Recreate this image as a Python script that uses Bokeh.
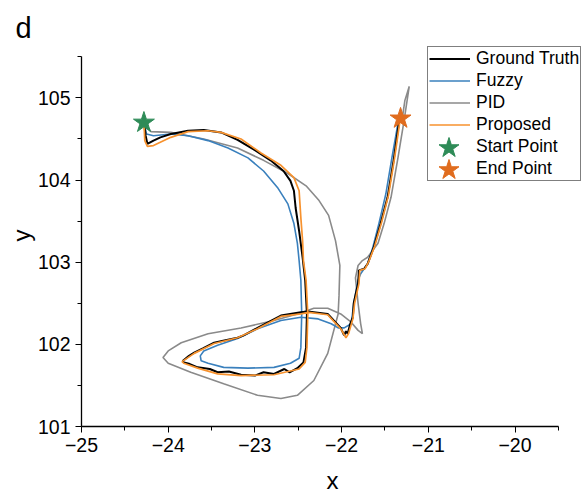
from bokeh.plotting import figure
from bokeh.models import Range1d, FixedTicker, Legend, LegendItem, Title
from bokeh.embed import file_html
from bokeh.resources import INLINE

# ---------------- data ----------------
gt_x = [-24.28, -24.26, -24.24, -24.17, -24.09, -23.97, -23.77, -23.59, -23.39,
        -23.20, -23.01, -22.82, -22.67, -22.59, -22.55, -22.53, -22.49, -22.45,
        -22.42, -22.40, -22.41, -22.44, -22.51, -22.60, -22.66, -22.78, -22.90,
        -23.00, -23.16, -23.30, -23.43, -23.52, -23.66, -23.75, -23.82, -23.83,
        -23.76, -23.70, -23.60, -23.47, -23.38, -23.20, -23.13, -22.97, -22.70,
        -22.47, -22.39, -22.16, -22.09, -22.01, -21.98, -21.97, -21.95, -21.93,
        -21.90, -21.87, -21.86, -21.81, -21.80, -21.74, -21.70, -21.63, -21.55,
        -21.47, -21.40, -21.34, -21.32]
gt_y = [104.70, 104.54, 104.44, 104.48, 104.52, 104.56, 104.60, 104.61, 104.58,
        104.49, 104.37, 104.24, 104.11, 103.99, 103.87, 103.66, 103.38, 103.06,
        102.78, 102.37, 101.96, 101.78, 101.71, 101.66, 101.70, 101.64, 101.66,
        101.62, 101.63, 101.67, 101.66, 101.70, 101.72, 101.76, 101.78, 101.80,
        101.86, 101.90, 101.95, 102.02, 102.04, 102.08, 102.11, 102.20, 102.35,
        102.39, 102.40, 102.37, 102.29, 102.20, 102.13, 102.11, 102.16, 102.13,
        102.25, 102.33, 102.50, 102.74, 102.90, 102.92, 102.98, 103.18, 103.47,
        103.79, 104.24, 104.69, 104.75]

fz_x = [-24.28, -24.25, -24.17, -23.97, -23.77, -23.54, -23.31, -23.08, -22.90,
        -22.74, -22.62, -22.55, -22.51, -22.49, -22.47, -22.46, -22.47, -22.49,
        -22.59, -22.78, -23.08, -23.36, -23.54, -23.62, -23.63, -23.59, -23.43,
        -23.20, -22.97, -22.70, -22.47, -22.27, -22.12, -22.04, -21.97, -21.89,
        -21.87, -21.86, -21.81, -21.78, -21.70, -21.64, -21.57, -21.49, -21.42,
        -21.35, -21.32]
fz_y = [104.70, 104.56, 104.54, 104.56, 104.54, 104.48, 104.39, 104.27, 104.11,
        103.91, 103.71, 103.47, 103.23, 103.02, 102.78, 102.37, 101.96, 101.83,
        101.77, 101.72, 101.71, 101.72, 101.77, 101.80, 101.86, 101.92, 101.99,
        102.07, 102.19, 102.29, 102.33, 102.31, 102.25, 102.20, 102.20, 102.25,
        102.41, 102.50, 102.78, 102.86, 102.98, 103.18, 103.47, 103.83, 104.27,
        104.69, 104.75]

pid_x = [-24.28, -24.20, -23.97, -23.59, -23.20, -22.90, -22.62, -22.41, -22.26,
         -22.15, -22.07, -22.02, -22.03, -22.04, -22.16, -22.32, -22.51, -22.70,
         -22.97, -23.36, -23.74, -24.00, -24.06, -24.00, -23.85, -23.54, -23.16,
         -22.78, -22.51, -22.32, -22.16, -22.01, -21.89, -21.81, -21.76, -21.78,
         -21.81, -21.84, -21.81, -21.76, -21.70, -21.58, -21.51, -21.43, -21.35,
         -21.28, -21.24, -21.22, -21.27, -21.30]
pid_y = [104.70, 104.59, 104.58, 104.50, 104.39, 104.24, 104.08, 103.93, 103.75,
         103.57, 103.26, 102.96, 102.59, 102.37, 101.89, 101.56, 101.38, 101.34,
         101.38, 101.52, 101.66, 101.77, 101.84, 101.92, 102.02, 102.13, 102.20,
         102.29, 102.37, 102.44, 102.44, 102.37, 102.27, 102.17, 102.13, 102.25,
         102.50, 102.81, 102.96, 103.02, 103.06, 103.23, 103.47, 103.79, 104.27,
         104.72, 105.00, 105.14, 104.97, 104.75]

pr_x = [-24.28, -24.27, -24.24, -24.17, -23.97, -23.77, -23.54, -23.39, -23.16,
        -22.93, -22.70, -22.55, -22.49, -22.47, -22.45, -22.44, -22.41, -22.39,
        -22.40, -22.42, -22.49, -22.78, -23.16, -23.43, -23.66, -23.82, -23.84,
        -23.70, -23.47, -23.20, -22.97, -22.70, -22.47, -22.38, -22.16, -22.09,
        -22.01, -21.95, -21.92, -21.87, -21.85, -21.80, -21.79, -21.73, -21.69,
        -21.62, -21.54, -21.46, -21.39, -21.33, -21.32]
pr_y = [104.70, 104.48, 104.41, 104.42, 104.52, 104.59, 104.60, 104.58, 104.50,
        104.33, 104.18, 104.03, 103.87, 103.54, 103.26, 103.02, 102.78, 102.37,
        101.96, 101.78, 101.70, 101.63, 101.62, 101.64, 101.71, 101.77, 101.79,
        101.89, 102.01, 102.08, 102.19, 102.34, 102.37, 102.39, 102.36, 102.28,
        102.19, 102.08, 102.13, 102.31, 102.50, 102.74, 102.90, 102.92, 103.00,
        103.19, 103.48, 103.81, 104.26, 104.70, 104.75]

start_pt = (-24.28, 104.70)
end_pt = (-21.32, 104.75)

x_ticks = [-25, -24, -23, -22, -21, -20]
x_minor = [-24.5, -23.5, -22.5, -21.5, -20.5, -19.5]
y_ticks = [101, 102, 103, 104, 105]
y_minor = [101.5, 102.5, 103.5, 104.5, 105.5]

labels = ["Ground Truth", "Fuzzy", "PID", "Proposed", "Start Point", "End Point"]
c_gt, c_fz, c_pid, c_pr = "#000000", "#3a80bd", "#8a8a8a", "#f7922e"
c_start, c_end = "#2e8b57", "#e06c1e"

FONT = "Liberation Sans"

# ---------------- figure ----------------
X0, X1, Y0, Y1 = -25, -19.21, 101, 105.65
BL, BR, BT, BB = 81, 0, 44, 72
W, H = 583, 498
FW, FH = W - BL - BR, H - BT - BB

p = figure(width=W, height=H,
           min_border_left=BL, min_border_right=BR,
           min_border_top=BT, min_border_bottom=BB,
           x_range=Range1d(X0, X1), y_range=Range1d(Y0, Y1),
           output_backend="svg", toolbar_location=None,
           background_fill_color="white", border_fill_color="white")
p.outline_line_color = None
p.grid.visible = False

for ax, ticks, minor, bnds in ((p.xaxis[0], x_ticks, x_minor, (-25, -19.5)),
                               (p.yaxis[0], y_ticks, y_minor, (101, 105.5))):
    ax.bounds = bnds
    ax.ticker = FixedTicker(ticks=ticks, minor_ticks=minor)
    ax.axis_line_color = "black"
    ax.axis_line_width = 1.3
    ax.major_tick_line_color = "black"
    ax.minor_tick_line_color = "black"
    ax.major_tick_in = 0
    ax.major_tick_out = 6
    ax.minor_tick_in = 0
    ax.minor_tick_out = 4
    ax.major_label_text_font = FONT
    ax.major_label_text_font_size = "19.5px"
    ax.major_label_text_color = "black"
    ax.axis_label_text_font = FONT
    ax.axis_label_text_font_size = "24px"
    ax.axis_label_text_font_style = "normal"
    ax.axis_label_text_color = "black"
    ax.major_label_standoff = 5

p.xaxis.axis_label = "x"
p.yaxis.axis_label = "y"
p.xaxis.axis_label_standoff = 12
p.yaxis.axis_label_standoff = 0
p.xaxis.major_label_overrides = {t: str(t).replace("-", "\u2212") for t in x_ticks}

r_pid = p.line(pid_x, pid_y, line_color=c_pid, line_width=1.6)
r_fz = p.line(fz_x, fz_y, line_color=c_fz, line_width=1.6)
r_gt = p.line(gt_x, gt_y, line_color=c_gt, line_width=2.0)
r_pr = p.line(pr_x, pr_y, line_color=c_pr, line_width=1.7)
p.scatter([start_pt[0]], [start_pt[1]], marker="star", size=22,
          fill_color=c_start, line_color=c_start)
p.scatter([end_pt[0]], [end_pt[1]], marker="star", size=22,
          fill_color=c_end, line_color=c_end)
# transparent stand-ins so the legend rows for the points keep their labels
r_st = p.scatter([start_pt[0]], [start_pt[1]], marker="star", size=1,
                 fill_alpha=0, line_alpha=0)
r_en = p.scatter([end_pt[0]], [end_pt[1]], marker="star", size=1,
                 fill_alpha=0, line_alpha=0)

# ---------------- legend ----------------
pad, gh, sp, gw = 1, 21, 1, 41
leg_x, leg_y = 346, 245
legend = Legend(items=[LegendItem(label=l, renderers=[r]) for l, r in
                       zip(labels, [r_gt, r_fz, r_pid, r_pr, r_st, r_en])],
                location=(leg_x, leg_y), padding=pad, spacing=sp, margin=0,
                glyph_width=gw, glyph_height=gh, label_height=gh,
                label_standoff=6, label_text_font=FONT,
                label_text_font_size="17.5px", label_text_color="black",
                border_line_color="black", border_line_width=1,
                background_fill_alpha=0)
p.add_layout(legend, "center")

# larger star keys shown through the (transparent) legend rows of the points
box_h = 2 * pad + len(labels) * gh + (len(labels) - 1) * sp
sx = leg_x + pad + gw / 2
for i, col in ((4, c_start), (5, c_end)):
    sy = leg_y + box_h - (pad + i * (gh + sp) + gh / 2)
    p.scatter([X0 + sx * (X1 - X0) / FW], [Y0 + sy * (Y1 - Y0) / FH],
              marker="star", size=21, fill_color=col, line_color=col)

p.title = Title(text="d", align="left", offset=-66, standoff=2,
                text_font=FONT, text_font_size="29px",
                text_font_style="normal", text_color="black")

open("out.html", "w").write(file_html(p, INLINE))
